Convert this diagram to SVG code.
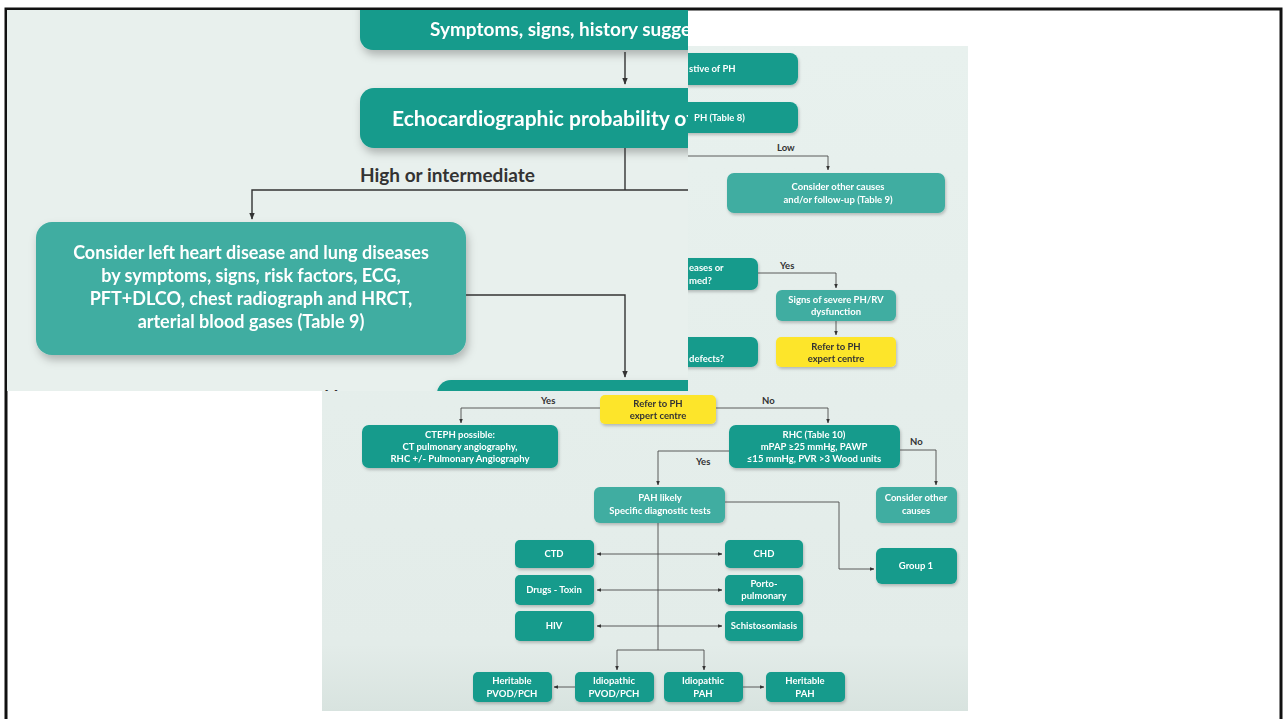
<svg xmlns="http://www.w3.org/2000/svg" width="1286" height="719" viewBox="0 0 1286 719">
<defs>
<style>
.t{font-family:Lato,"Open Sans","DejaVu Sans",sans-serif;font-weight:bold;}
.w{fill:#ffffff}
.d{fill:#333333}
.s{font-size:9.5px}
.dk{fill:#139b8c}
.lt{fill:#3fada1}
.yl{fill:#fde52c}
.ln{fill:none;stroke:#4a4a4a;stroke-width:0.9}
.lnb{fill:none;stroke:#333333;stroke-width:1.4}
</style>
<marker id="ah" viewBox="0 0 10 10" refX="9" refY="5" markerWidth="5" markerHeight="5" orient="auto-start-reverse"><path d="M0,1 L10,5 L0,9 z" fill="#333333"/></marker>
<filter id="sh" x="-10%" y="-20%" width="125%" height="150%"><feDropShadow dx="1" dy="2" stdDeviation="1.5" flood-color="#000" flood-opacity="0.22"/></filter>
<filter id="shb" x="-10%" y="-20%" width="125%" height="150%"><feDropShadow dx="2" dy="5" stdDeviation="4" flood-color="#000" flood-opacity="0.25"/></filter>
<linearGradient id="bgl" x1="0" y1="0" x2="0" y2="1"><stop offset="0" stop-color="#e8f1ee"/><stop offset="0.9" stop-color="#e3ece9"/><stop offset="1" stop-color="#d8e3df"/></linearGradient>
<clipPath id="cpTop"><rect x="7" y="10" width="681" height="381"/></clipPath>
</defs>

<rect x="0" y="0" width="1286" height="719" fill="#ffffff"/>
<rect id="frame" x="6" y="9" width="1275" height="720" fill="none" stroke="#111111" stroke-width="3"/>

<!-- lower (overview) panel -->
<rect id="panel-overview" x="322" y="46" width="646" height="665" fill="url(#bgl)"/>

<g id="n-suggestive" filter="url(#sh)">
<rect class="dk" x="660" y="53" width="138" height="32" rx="8"/>
<text class="t w s" x="689" y="72">stive of PH</text>
</g>
<g id="n-echo-small" filter="url(#sh)">
<rect class="dk" x="660" y="102" width="138" height="31" rx="8"/>
<text class="t w s" x="694" y="121">PH (Table 8)</text>
</g>
<g id="n-other-followup" filter="url(#sh)">
<rect class="lt" x="727" y="173" width="218" height="40" rx="7"/>
<text class="t w s" x="838" y="190" text-anchor="middle">Consider other causes</text>
<text class="t w s" x="838" y="203" text-anchor="middle">and/or follow-up (Table 9)</text>
</g>
<g id="n-confirmed" filter="url(#sh)">
<rect class="dk" x="660" y="258" width="98" height="32" rx="7"/>
<text class="t w s" x="689" y="271">eases or</text>
<text class="t w s" x="689" y="284">med?</text>
</g>
<g id="n-severe" filter="url(#sh)">
<rect class="lt" x="776" y="290" width="120" height="31" rx="6"/>
<text class="t w s" x="836" y="303" text-anchor="middle">Signs of severe PH/RV</text>
<text class="t w s" x="836" y="315" text-anchor="middle">dysfunction</text>
</g>
<g id="n-refer1" filter="url(#sh)">
<rect class="yl" x="776" y="337" width="120" height="30" rx="5"/>
<text class="t d s" x="836" y="350" text-anchor="middle">Refer to PH</text>
<text class="t d s" x="836" y="362" text-anchor="middle">expert centre</text>
</g>
<g id="n-defects" filter="url(#sh)">
<rect class="dk" x="660" y="337" width="98" height="30" rx="7"/>
<text class="t w s" x="689" y="362">defects?</text>
</g>

<g id="n-refer2" filter="url(#sh)">
<rect class="yl" x="600" y="395" width="116" height="29" rx="5"/>
<text class="t d s" x="658" y="407" text-anchor="middle">Refer to PH</text>
<text class="t d s" x="658" y="419" text-anchor="middle">expert centre</text>
</g>
<g id="n-cteph" filter="url(#sh)">
<rect class="dk" x="362" y="425" width="196" height="43" rx="7"/>
<text class="t w s" x="460" y="438" text-anchor="middle">CTEPH possible:</text>
<text class="t w s" x="460" y="450" text-anchor="middle">CT pulmonary angiography,</text>
<text class="t w s" x="460" y="462" text-anchor="middle">RHC +/- Pulmonary Angiography</text>
</g>
<g id="n-rhc" filter="url(#sh)">
<rect class="dk" x="729" y="425" width="171" height="43" rx="7"/>
<text class="t w s" x="814" y="438" text-anchor="middle">RHC (Table 10)</text>
<text class="t w s" x="814" y="450" text-anchor="middle">mPAP ≥25 mmHg, PAWP</text>
<text class="t w s" x="814" y="462" text-anchor="middle">≤15 mmHg, PVR &gt;3 Wood units</text>
</g>
<g id="n-pah" filter="url(#sh)">
<rect class="lt" x="594" y="487" width="131" height="36" rx="6"/>
<text class="t w s" x="660" y="501" text-anchor="middle">PAH likely</text>
<text class="t w s" x="660" y="514" text-anchor="middle">Specific diagnostic tests</text>
</g>
<g id="n-other2" filter="url(#sh)">
<rect class="lt" x="876" y="487" width="81" height="36" rx="6"/>
<text class="t w s" x="916" y="501" text-anchor="middle">Consider other</text>
<text class="t w s" x="916" y="514" text-anchor="middle">causes</text>
</g>
<g id="n-group1" filter="url(#sh)">
<rect class="dk" x="876" y="548" width="81" height="36" rx="6"/>
<text class="t w s" x="916" y="569" text-anchor="middle">Group 1</text>
</g>
<g id="n-ctd" filter="url(#sh)">
<rect class="dk" x="515" y="540" width="79" height="28" rx="5"/>
<text class="t w s" x="554" y="557" text-anchor="middle">CTD</text>
</g>
<g id="n-chd" filter="url(#sh)">
<rect class="dk" x="725" y="540" width="78" height="28" rx="5"/>
<text class="t w s" x="764" y="557" text-anchor="middle">CHD</text>
</g>
<g id="n-drugs" filter="url(#sh)">
<rect class="dk" x="515" y="575" width="79" height="30" rx="5"/>
<text class="t w s" x="554" y="593" text-anchor="middle">Drugs - Toxin</text>
</g>
<g id="n-porto" filter="url(#sh)">
<rect class="dk" x="725" y="575" width="78" height="30" rx="5"/>
<text class="t w s" x="764" y="587" text-anchor="middle">Porto-</text>
<text class="t w s" x="764" y="599" text-anchor="middle">pulmonary</text>
</g>
<g id="n-hiv" filter="url(#sh)">
<rect class="dk" x="515" y="611" width="79" height="30" rx="5"/>
<text class="t w s" x="554" y="629" text-anchor="middle">HIV</text>
</g>
<g id="n-schisto" filter="url(#sh)">
<rect class="dk" x="725" y="611" width="78" height="30" rx="5"/>
<text class="t w s" x="764" y="629" text-anchor="middle">Schistosomiasis</text>
</g>
<g id="n-her-pvod" filter="url(#sh)">
<rect class="dk" x="473" y="672" width="79" height="30" rx="5"/>
<text class="t w s" x="512" y="684" text-anchor="middle">Heritable</text>
<text class="t w s" x="512" y="697" text-anchor="middle">PVOD/PCH</text>
</g>
<g id="n-idio-pvod" filter="url(#sh)">
<rect class="dk" x="575" y="672" width="79" height="30" rx="5"/>
<text class="t w s" x="614" y="684" text-anchor="middle">Idiopathic</text>
<text class="t w s" x="614" y="697" text-anchor="middle">PVOD/PCH</text>
</g>
<g id="n-idio-pah" filter="url(#sh)">
<rect class="dk" x="664" y="672" width="79" height="30" rx="5"/>
<text class="t w s" x="703" y="684" text-anchor="middle">Idiopathic</text>
<text class="t w s" x="703" y="697" text-anchor="middle">PAH</text>
</g>
<g id="n-her-pah" filter="url(#sh)">
<rect class="dk" x="766" y="672" width="79" height="30" rx="5"/>
<text class="t w s" x="805" y="684" text-anchor="middle">Heritable</text>
<text class="t w s" x="805" y="697" text-anchor="middle">PAH</text>
</g>

<!-- magnified top panel -->
<g id="panel-zoom" clip-path="url(#cpTop)">
<rect x="7" y="10" width="681" height="381" fill="#e8f0ed"/>
<g id="z-symptoms" filter="url(#shb)">
<rect class="dk" x="360" y="-20" width="420" height="70" rx="13"/>
<text class="t w" x="430" y="36" font-size="19">Symptoms, signs, history sugge</text>
</g>
<g id="z-echo" filter="url(#shb)">
<rect class="dk" x="360" y="88" width="420" height="60" rx="14"/>
<text class="t w" x="392" y="126" font-size="21">Echocardiographic probability of</text>
</g>
<g id="z-consider" filter="url(#shb)">
<rect class="lt" x="36" y="222" width="430" height="133" rx="16"/>
<text class="t w" x="251" y="259" font-size="18" text-anchor="middle">Consider left heart disease and lung diseases</text>
<text class="t w" x="251" y="282" font-size="18" text-anchor="middle">by symptoms, signs, risk factors, ECG,</text>
<text class="t w" x="251" y="305" font-size="18" text-anchor="middle">PFT+DLCO, chest radiograph and HRCT,</text>
<text class="t w" x="251" y="328" font-size="18" text-anchor="middle">arterial blood gases  (Table 9)</text>
</g>
<g id="z-next" filter="url(#shb)">
<rect class="dk" x="437" y="380" width="330" height="60" rx="14"/>
</g>
<text class="t d" x="360" y="182" font-size="19">High or intermediate</text>
<text class="t d" x="324" y="404" font-size="19">No</text>
</g>

<g id="connectors">
<!-- zoom panel -->
<path class="lnb" d="M625,52 V84" marker-end="url(#ah)"/>
<path class="lnb" d="M625,148 V190"/>
<path class="lnb" d="M688,190 H252 V219" marker-end="url(#ah)"/>
<path class="lnb" d="M466,295 H625 V377" marker-end="url(#ah)"/>
<!-- overview panel -->
<path class="ln" d="M688,156 H828 V170" marker-end="url(#ah)"/>
<path class="ln" d="M758,273 H836 V288" marker-end="url(#ah)"/>
<path class="ln" d="M836,321 V335" marker-end="url(#ah)"/>
<path class="ln" d="M600,408 H461 V423" marker-end="url(#ah)"/>
<path class="ln" d="M716,408 H828 V423" marker-end="url(#ah)"/>
<path class="ln" d="M729,451 H658 V485" marker-end="url(#ah)"/>
<path class="ln" d="M900,450 H936 V485" marker-end="url(#ah)"/>
<path class="ln" d="M725,502 H839 V569 H874" marker-end="url(#ah)"/>
<path class="ln" d="M658,523 V650"/>
<path class="ln" d="M617,670 V650 H704 V670" marker-start="url(#ah)" marker-end="url(#ah)"/>
<path class="ln" d="M597,554 H722" marker-start="url(#ah)" marker-end="url(#ah)"/>
<path class="ln" d="M597,590 H722" marker-start="url(#ah)" marker-end="url(#ah)"/>
<path class="ln" d="M597,626 H722" marker-start="url(#ah)" marker-end="url(#ah)"/>
<path class="ln" d="M575,687 H554" marker-end="url(#ah)"/>
<path class="ln" d="M743,687 H764" marker-end="url(#ah)"/>
</g>

<g id="labels">
<text class="t d s" x="777" y="151">Low</text>
<text class="t d s" x="780" y="269">Yes</text>
<text class="t d s" x="541" y="404">Yes</text>
<text class="t d s" x="762" y="404">No</text>
<text class="t d s" x="910" y="445">No</text>
<text class="t d s" x="696" y="465">Yes</text>
</g>
</svg>
